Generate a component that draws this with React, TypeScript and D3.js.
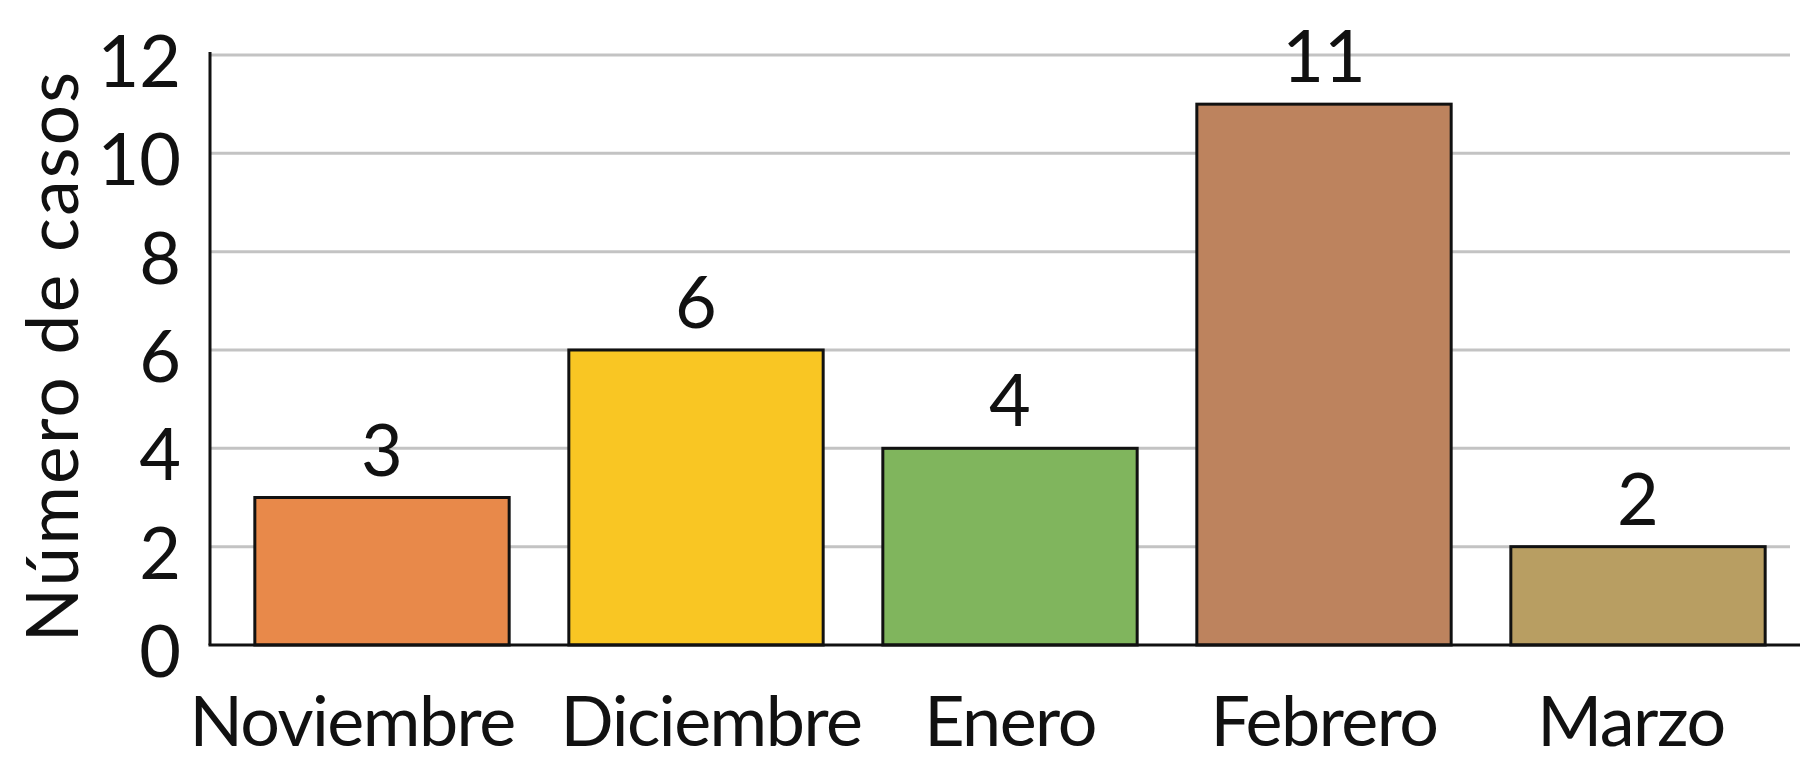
import React from "react";
import * as d3 from "d3";

const categories = ["Noviembre", "Diciembre", "Enero", "Febrero", "Marzo"];
const values = [3, 6, 4, 11, 2];
const barColors = ["#E8894A", "#F9C623", "#80B55D", "#BD835E", "#B89E62"];
const yTicks = [0, 2, 4, 6, 8, 10, 12];
const yTitle = "Número de casos";

const W = 1800;
const H = 771;
const FONT = "Lato, 'Open Sans', sans-serif";
// horizontal nudges of the category labels (layout only)
const labelNudge = [-30, 15, 0, 0, -7];

export default function App() {
  const x = d3
    .scaleBand<string>()
    .domain(categories)
    .range([225, 1795])
    .paddingInner(0.19)
    .paddingOuter(0.095);
  const y = d3.scaleLinear().domain([0, 12]).range([645, 55]);
  const axisX = 210;

  return (
    <svg
      width={W}
      height={H}
      style={{ position: "absolute", left: 0, top: 0, background: "#fff" }}
      fontFamily={FONT}
    >
      {yTicks.filter((t) => t > 0).map((t) => (
        <line
          key={"g" + t}
          x1={axisX}
          x2={1790}
          y1={y(t)}
          y2={y(t)}
          stroke="#C3C3C3"
          strokeWidth={3}
        />
      ))}
      {categories.map((c, i) => (
        <rect
          key={c}
          x={x(c)}
          y={y(values[i])}
          width={x.bandwidth()}
          height={y(0) - y(values[i])}
          fill={barColors[i]}
          stroke="#111"
          strokeWidth={3}
        />
      ))}
      <line x1={axisX} x2={axisX} y1={52} y2={y(0)} stroke="#111" strokeWidth={3} />
      <line x1={axisX - 1.5} x2={W} y1={y(0)} y2={y(0)} stroke="#111" strokeWidth={3} />
      {yTicks.map((t) => (
        <text
          key={"t" + t}
          x={181}
          y={y(t) + 4}
          textAnchor="end"
          dominantBaseline="central"
          fontSize={72}
          fill="#111"
        >
          {t}
        </text>
      ))}
      {categories.map((c, i) => (
        <text
          key={"v" + c}
          x={(x(c) as number) + x.bandwidth() / 2}
          y={y(values[i]) - 22}
          textAnchor="middle"
          fontSize={72}
          fill="#111"
        >
          {values[i]}
        </text>
      ))}
      {categories.map((c, i) => (
        <text
          key={"c" + c}
          x={(x(c) as number) + x.bandwidth() / 2 + labelNudge[i]}
          y={746}
          textAnchor="middle"
          fontSize={70}
          letterSpacing={-1.5}
          fill="#111"
        >
          {c}
        </text>
      ))}
      <text
        transform={`translate(78, ${(75 + 637) / 2}) rotate(-90)`}
        textAnchor="middle"
        fontSize={71}
        letterSpacing={2.3}
        fill="#111"
      >
        {yTitle}
      </text>
    </svg>
  );
}
